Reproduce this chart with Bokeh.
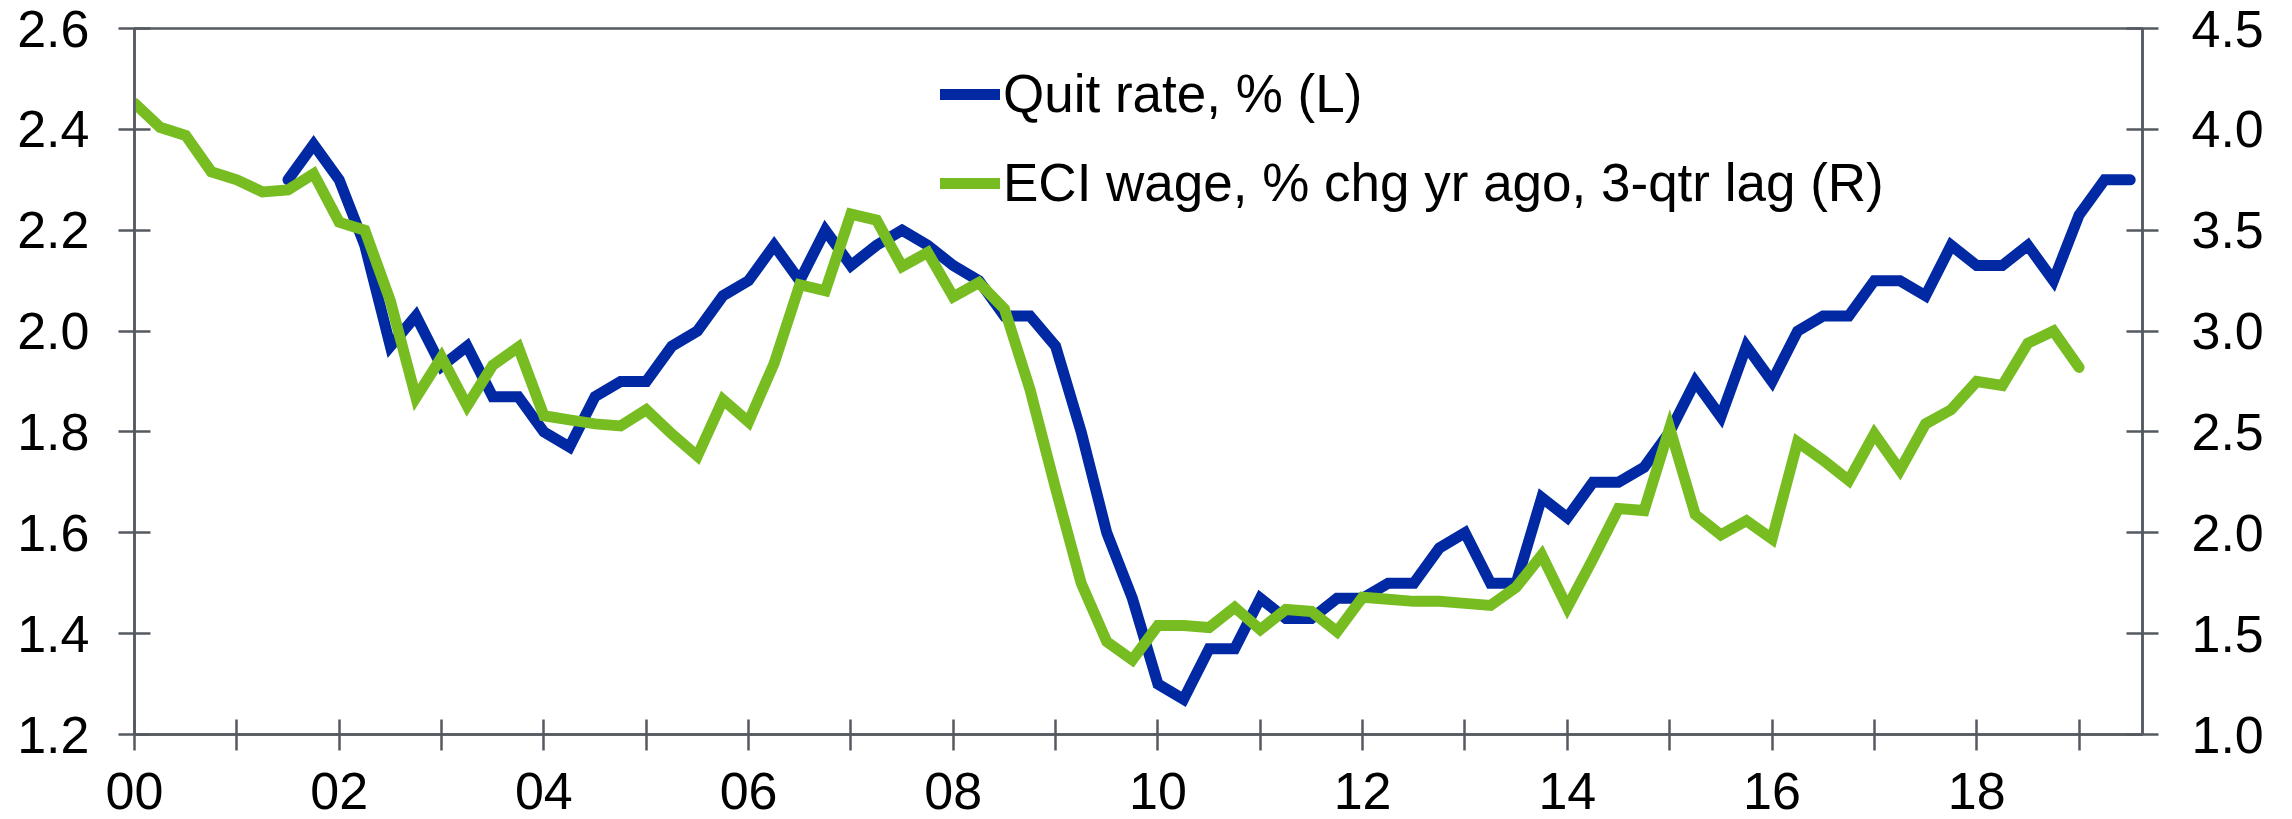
from bokeh.plotting import figure
from bokeh.models import (Range1d, LinearAxis, FixedTicker, PrintfTickFormatter,
                          Legend, LegendItem, ColumnDataSource)
from bokeh.embed import file_html
from bokeh.resources import INLINE

# ---- data (quarterly) ----
quit_start_year = 2001.5
quit_rate = [
    2.30, 2.37,                     # 2001 Q3-Q4
    2.30, 2.17, 1.97, 2.03,         # 2002
    1.93, 1.97, 1.87, 1.87,         # 2003
    1.80, 1.77, 1.87, 1.90,         # 2004
    1.90, 1.97, 2.00, 2.07,         # 2005
    2.10, 2.17, 2.10, 2.20,         # 2006
    2.13, 2.17, 2.20, 2.17,         # 2007
    2.13, 2.10, 2.03, 2.03,         # 2008
    1.97, 1.80, 1.60, 1.47,         # 2009
    1.30, 1.27, 1.37, 1.37,         # 2010
    1.47, 1.43, 1.43, 1.47,         # 2011
    1.47, 1.50, 1.50, 1.57,         # 2012
    1.60, 1.50, 1.50, 1.67,         # 2013
    1.63, 1.70, 1.70, 1.73,         # 2014
    1.80, 1.90, 1.83, 1.97,         # 2015
    1.90, 2.00, 2.03, 2.03,         # 2016
    2.10, 2.10, 2.07, 2.17,         # 2017
    2.13, 2.13, 2.17, 2.10,         # 2018
    2.23, 2.30, 2.30,               # 2019
]

eci_start_year = 2000.0
eci_wage = [
    4.13, 4.01, 3.97, 3.79,         # 2000
    3.75, 3.69, 3.70, 3.78,         # 2001
    3.54, 3.50, 3.15, 2.67,         # 2002
    2.87, 2.63, 2.83, 2.92,         # 2003
    2.58, 2.56, 2.54, 2.53,         # 2004
    2.61, 2.49, 2.38, 2.66,         # 2005
    2.55, 2.84, 3.23, 3.20,         # 2006
    3.58, 3.55, 3.32, 3.39,         # 2007
    3.17, 3.24, 3.11, 2.71,         # 2008
    2.22, 1.75, 1.46, 1.37,         # 2009
    1.54, 1.54, 1.53, 1.63,         # 2010
    1.52, 1.62, 1.61, 1.51,         # 2011
    1.68, 1.67, 1.66, 1.66,         # 2012
    1.65, 1.64, 1.73, 1.89,         # 2013
    1.63, 1.87, 2.12, 2.11,         # 2014
    2.52, 2.09, 1.99, 2.06,         # 2015
    1.97, 2.45, 2.36, 2.26,         # 2016
    2.49, 2.31, 2.54, 2.61,         # 2017
    2.75, 2.73, 2.94, 3.00,         # 2018
    2.82,                           # 2019
]

x_tick_years = list(range(2000, 2020))
x_tick_labels = ["00", "", "02", "", "04", "", "06", "", "08", "", "10", "",
                 "12", "", "14", "", "16", "", "18", ""]
left_ticks = [1.2, 1.4, 1.6, 1.8, 2.0, 2.2, 2.4, 2.6]
right_ticks = [1.0, 1.5, 2.0, 2.5, 3.0, 3.5, 4.0, 4.5]

series_labels = ["Quit rate, % (L)", "ECI wage, % chg yr ago, 3-qtr lag (R)"]
BLUE = "#0029A3"
GREEN = "#77BD22"
AXIS = "#555A60"
FONT = "Liberation Sans"

quit_x = [quit_start_year + 0.25 * i for i in range(len(quit_rate))]
eci_x = [eci_start_year + 0.25 * i for i in range(len(eci_wage))]

p = figure(width=2292, height=819, output_backend="svg", toolbar_location=None,
           x_range=Range1d(2000, 2019.62), y_range=Range1d(1.2, 2.6),
           min_border_left=134, min_border_right=150, min_border_top=28,
           min_border_bottom=85)
p.extra_y_ranges = {"right": Range1d(1.0, 4.5)}
p.grid.visible = False
p.outline_line_color = AXIS
p.outline_line_width = 2.5
p.background_fill_color = "white"
p.border_fill_color = "white"

src_q = ColumnDataSource(dict(x=quit_x, y=quit_rate))
src_e = ColumnDataSource(dict(x=eci_x, y=eci_wage))
r_q = p.line("x", "y", source=src_q, line_color=BLUE, line_width=11,
             line_cap="round", line_join="miter")
r_e = p.line("x", "y", source=src_e, line_color=GREEN, line_width=11,
             line_cap="round", line_join="miter", y_range_name="right")

def style_axis(ax, tin, tout, standoff):
    ax.axis_line_color = AXIS
    ax.axis_line_width = 2.5
    ax.major_tick_line_color = AXIS
    ax.major_tick_line_width = 2.5
    ax.major_tick_in = tin
    ax.major_tick_out = tout
    ax.minor_tick_line_color = None
    ax.minor_tick_in = 0
    ax.minor_tick_out = 0
    ax.major_label_text_font = FONT
    ax.major_label_text_font_size = "52px"
    ax.major_label_text_color = "black"
    ax.major_label_standoff = standoff

xa = p.xaxis[0]
xa.ticker = FixedTicker(ticks=x_tick_years)
xa.major_label_overrides = {y: lab for y, lab in zip(x_tick_years, x_tick_labels)}
style_axis(xa, 15, 16, 22)

ya = p.yaxis[0]
ya.ticker = FixedTicker(ticks=left_ticks)
ya.formatter = PrintfTickFormatter(format="%.1f")
style_axis(ya, 16, 16, 29)

yr = LinearAxis(y_range_name="right")
yr.ticker = FixedTicker(ticks=right_ticks)
yr.formatter = PrintfTickFormatter(format="%.1f")
style_axis(yr, 16, 16, 33)
p.add_layout(yr, "right")

legend = Legend(items=[LegendItem(label=series_labels[0], renderers=[r_q]),
                       LegendItem(label=series_labels[1], renderers=[r_e])],
                location=(806, 521))
legend.label_text_font = FONT
legend.label_text_font_size = "53px"
legend.label_text_color = "black"
legend.glyph_width = 60
legend.glyph_height = 58
legend.label_standoff = 3
legend.spacing = 28
legend.padding = 0
legend.margin = 0
legend.border_line_color = None
legend.background_fill_alpha = 0
p.add_layout(legend, "center")

open("out.html", "w").write(file_html(p, INLINE))
